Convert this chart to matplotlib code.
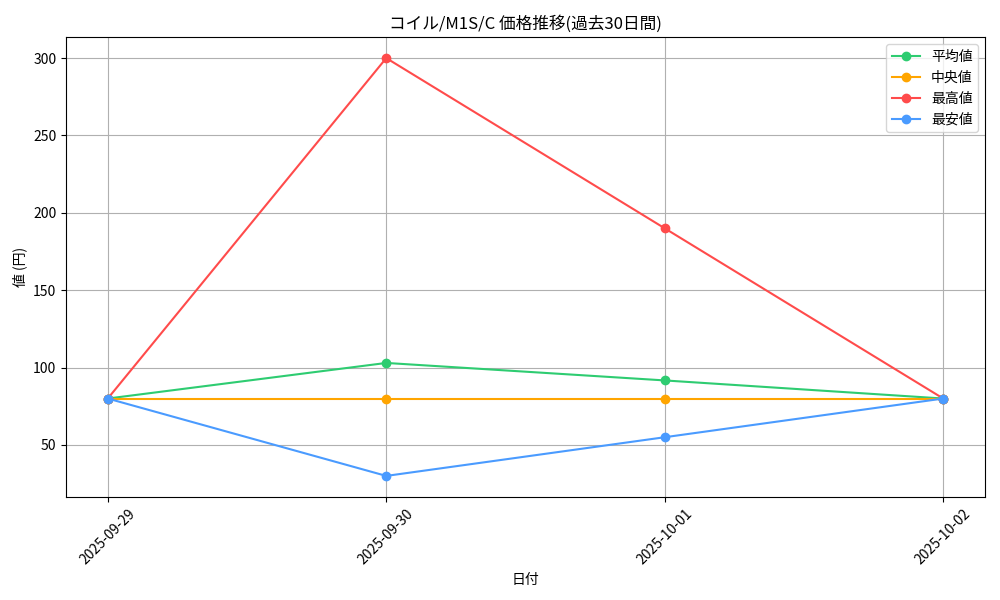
import matplotlib
matplotlib.use('Agg')
import matplotlib.pyplot as plt

plt.rcParams['font.family'] = ['Noto Sans CJK JP', 'DejaVu Sans']

dates = ['2025-09-29', '2025-09-30', '2025-10-01', '2025-10-02']
avg_vals = [80, 103, 91.7, 80]
med_vals = [80, 80, 80, 80]
max_vals = [80, 300, 190, 80]
min_vals = [80, 30, 55, 80]

fig, ax = plt.subplots(figsize=(10, 6), dpi=100)
x = range(len(dates))
ax.plot(x, avg_vals, marker='o', color='#2ecc71', label='平均値')
ax.plot(x, med_vals, marker='o', color='#ffa500', label='中央値')
ax.plot(x, max_vals, marker='o', color='#ff4b4b', label='最高値')
ax.plot(x, min_vals, marker='o', color='#4a9bff', label='最安値')

ax.set_xticks(list(x))
ax.set_xticklabels(dates, rotation=45)
ax.set_title('コイル/M1S/C 価格推移(過去30日間)')
ax.set_xlabel('日付')
ax.set_ylabel('値 (円)')
ax.grid(True)
ax.legend(loc='upper right')

fig.subplots_adjust(left=0.066, right=0.985, top=0.938, bottom=0.172)
plt.savefig('out.png')
